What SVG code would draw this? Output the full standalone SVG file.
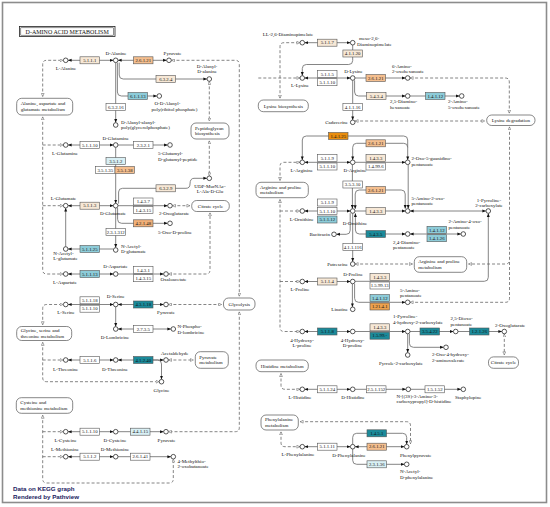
<svg xmlns="http://www.w3.org/2000/svg" width="550" height="507" viewBox="0 0 550 507">
<style>
text{font-family:"Liberation Serif","Times New Roman",serif;font-size:5px;fill:#111}
.et{text-anchor:middle;font-size:4.8px}
.m{text-anchor:middle}
.s{text-anchor:start}
.n{text-anchor:end}
.e{stroke:#555;stroke-width:0.6}
.w{fill:#fff}.t{fill:#f7e8d6}.o{fill:#f5bf8f}.o2{fill:#f2b078}.o3{fill:#eea24e}.oo{fill:#e98d0e}.b{fill:#8dccd9}.lb{fill:#d9f0f5}.dk{fill:#1b8a9a}
.c{fill:#fff;stroke:#222;stroke-width:0.75}
.mp{fill:#fff;stroke:#555;stroke-width:0.7}
.r{fill:none;stroke:#777;stroke-width:0.9}
.d{fill:none;stroke:#666;stroke-width:0.8;stroke-dasharray:3 2}
.ae{marker-end:url(#f)}.as{marker-start:url(#f)}
.de{marker-end:url(#h)}.ds{marker-start:url(#h)}
.lg{font-family:"Liberation Sans",Arial,sans-serif;font-weight:bold;font-size:6.2px;fill:#1a1a5e}
</style>
<defs>
<marker id="f" viewBox="0 0 10 10" refX="9.5" refY="5" markerWidth="3.7" markerHeight="3.7" orient="auto-start-reverse" markerUnits="userSpaceOnUse"><path d="M0,1 L10,5 L0,9z" fill="#111"/></marker>
<marker id="h" viewBox="0 0 10 10" refX="9.5" refY="5" markerWidth="3.6" markerHeight="3.6" orient="auto-start-reverse" markerUnits="userSpaceOnUse"><path d="M1,1 L9,5 L1,9z" fill="#fff" stroke="#444" stroke-width="1.2"/></marker>
</defs>
<rect x="0" y="0" width="550" height="507" fill="#fff"/>
<rect x="2.5" y="2.5" width="544" height="500" fill="none" stroke="#8c8c8c" stroke-width="1.6"/>
<g id="title">
<rect x="19.5" y="26.5" width="95.5" height="10" fill="#fff" stroke="#222" stroke-width="0.8"/>
<rect x="20.8" y="27.8" width="92.9" height="7.4" fill="none" stroke="#222" stroke-width="0.5"/>
<text class="m" x="67.2" y="33.6" style="font-size:6px">D-AMINO ACID METABOLISM</text>
</g>

<g id="connectors">
<path class="r as ae" d="M68.1,60.3H113.3"/>
<path class="r as ae" d="M118.1,60.3H166.6"/>
<path class="r ae" d="M119.2,62.6V75Q119.2,79 123.2,79H206.9"/>
<path class="r ae" d="M117.4,62.7V92Q117.4,96 121.4,96H156.9"/>
<path class="r ae" d="M115.7,62.7V122.6"/>
<path class="r as ae" d="M68.1,145H113.3"/>
<path class="r ae" d="M118.1,145H167.6"/>
<path class="r ae" d="M115.7,147.4V203.3"/>
<path class="r ae" d="M118.6,203.6V192Q118.6,188.3 122.6,188.3H186Q190,188.3 190,184Q190,178.3 194,178.3H206.9"/>
<path class="r as ae" d="M68.1,205.7H113.3"/>
<path class="r ae" d="M118.1,205.7H167.6"/>
<path class="r ae" d="M117.6,208V219.3Q117.6,223.3 121.6,223.3H167.6"/>
<path class="r ae" d="M115.7,208.1V247.6"/>
<path class="r ae" d="M113.3,249H68.1"/>
<path class="r ae" d="M65.7,246.6V208.1"/>
<path class="r as ae" d="M68.1,274H113.3"/>
<path class="r ae" d="M118.1,274H163.6"/>
<path class="r as ae" d="M68.1,304.5H113.3"/>
<path class="r as ae" d="M118.1,304.5H163.6"/>
<path class="r ae" d="M115.7,306.9V326.6"/>
<path class="r as ae" d="M118.1,329H170.9"/>
<path class="r as ae" d="M68.1,360H113.3"/>
<path class="r as ae" d="M118.1,360H163.6"/>
<path class="r ae" d="M153,360H157.5Q161.5,360 161.5,364V379.3"/>
<path class="r as ae" d="M68.1,431.7H113.3"/>
<path class="r ae" d="M118.1,431.7H163.6"/>
<path class="r as ae" d="M68.1,456.7H113.3"/>
<path class="r ae" d="M118.1,456.7H170.9"/>
<path class="d ds de" d="M42.7,96.5V64.3Q42.7,60.3 46.7,60.3H63.1"/>
<path class="d ds de" d="M42.7,116.8V270Q42.7,274 46.7,274H63.1"/>
<path class="d de" d="M42.7,145H63.1"/>
<path class="d de" d="M42.7,205.7H63.1"/>
<path class="d ds de" d="M171.5,60.3H235.3Q239.3,60.3 239.3,64.3V296.3"/>
<path class="d ds de" d="M209.3,81.4V121.2"/>
<path class="d ds de" d="M209.3,140.8V175.9"/>
<path class="d ds de" d="M172.4,205.7H189.9"/>
<path class="d ds de" d="M168.4,274H206Q210,274 210,270V212.8"/>
<path class="d ds de" d="M168.4,304.5H221.7"/>
<path class="d ds de" d="M239.3,311.8V427.7Q239.3,431.7 235.3,431.7H168.4"/>
<path class="d ds de" d="M42.7,324.8V308.5Q42.7,304.5 46.7,304.5H63.1"/>
<path class="d ds de" d="M42.7,342.3V377.7Q42.7,381.7 46.7,381.7H159.1"/>
<path class="d de" d="M42.7,360H63.1"/>
<path class="d ds de" d="M168.4,360H193.5"/>
<path class="d ds de" d="M42.7,415.2V479Q42.7,483 46.7,483H169.3Q173.3,483 173.3,479V459.1"/>
<path class="d de" d="M42.7,431.7H63.1"/>
<path class="d de" d="M42.7,456.7H63.1"/>
<path class="r as ae" d="M304.7,42.7H350.3"/>
<path class="r ae" d="M352.7,45.1V60.5Q352.7,64.5 348.7,64.5H306.3Q302.3,64.5 302.3,68.5V75.6"/>
<path class="r as ae" d="M304.7,78H350.3"/>
<path class="r ae" d="M355.1,78H405.3"/>
<path class="r ae" d="M354.6,80.3V92Q354.6,96 358.6,96H405.3"/>
<path class="r ae" d="M410.1,96H459.3"/>
<path class="r ae" d="M352.7,80.4V119.9"/>
<path class="r as ae" d="M302.3,159.9V140Q302.3,136 306.3,136H403.7Q407.7,136 407.7,140V159.9"/>
<path class="r as" d="M352.7,159.9V147.3Q352.7,143.3 356.7,143.3H403.7Q407.7,143.3 407.7,147.3"/>
<path class="r as ae" d="M304.7,162.3H350.3"/>
<path class="r ae" d="M355.1,162.3H405.3"/>
<path class="r ae" d="M352.4,164.7V208.6"/>
<path class="r ae" d="M408.2,164.7V208.6"/>
<path class="r as ae" d="M355.2,208.7V194Q355.2,190 359.2,190H401.2Q405.2,190 405.2,194V208.6"/>
<path class="r ae" d="M355.1,211H405.3"/>
<path class="r as ae" d="M304.7,211H350.3"/>
<path class="r as ae" d="M410.1,211H485.9"/>
<path class="r as ae" d="M355.4,213.4V230Q355.4,234 359.4,234H405.3"/>
<path class="r as ae" d="M410.1,234H460.9"/>
<path class="r ae" d="M350.2,213.2V230.3Q350.2,234.3 346.2,234.3H336.4"/>
<path class="r ae" d="M352.7,213.4V261.6"/>
<path class="r as ae" d="M304.7,281.5H350.3"/>
<path class="r ae" d="M355.1,281.3H484.3Q488.3,281.3 488.3,277.3V213.4"/>
<path class="r ae" d="M354.6,283.8V298.3Q354.6,302.3 358.6,302.3H405.3"/>
<path class="r ae" d="M352.4,283.9V306.9"/>
<path class="r as ae" d="M304.7,331.5H350.3"/>
<path class="r ae" d="M355.1,331.5H405.3"/>
<path class="r ae" d="M410.1,331.5H453.3"/>
<path class="r ae" d="M458.1,331.5H501.9"/>
<path class="r ae" d="M407.7,333.9V352.6"/>
<path class="r ae" d="M409.4,334V343.3Q409.4,347.3 413.4,347.3H443.6"/>
<path class="r as ae" d="M304.7,389.3H350.3"/>
<path class="r ae" d="M355.1,389.3H405.9"/>
<path class="r ae" d="M410.7,389.3H460.9"/>
<path class="r as ae" d="M304.7,446.7H350.3"/>
<path class="r as ae" d="M355.1,446.7H404.3"/>
<path class="r ae" d="M352.7,444.3V437.3Q352.7,433.3 356.7,433.3H402.7Q406.7,433.3 406.7,437.3V444.3"/>
<path class="r ae" d="M352.7,449.1V460.3Q352.7,464.3 356.7,464.3H404.3"/>
<path class="d ds de" d="M280,98.2V46.7Q280,42.7 284,42.7H299.9"/>
<path class="d de" d="M258.3,78H299.9"/>
<path class="d ds de" d="M410.1,78H505.3Q509.3,78 509.3,82V113.2"/>
<path class="d ds de" d="M355.1,121H484.9"/>
<path class="d ds de" d="M509.5,126.8V260Q509.5,264 505.5,264H468.5"/>
<path class="d de" d="M509.5,262V298.3Q509.5,302.3 505.5,302.3H410.1"/>
<path class="d ds de" d="M355.1,264H412.5"/>
<path class="d ds de" d="M280,180.5V166.3Q280,162.3 284,162.3H299.9"/>
<path class="d ds de" d="M280,199.5V327.5Q280,331.5 284,331.5H299.9"/>
<path class="d de" d="M280,211H299.9"/>
<path class="d de" d="M280,281.5H299.9"/>
<path class="d ds de" d="M504.3,333.9V354.9"/>
<path class="d ds de" d="M281,373.5V385.3Q281,389.3 285,389.3H299.9"/>
<path class="d ds de" d="M281,431.8V442.7Q281,446.7 285,446.7H299.9"/>
<path class="d ds de" d="M300.1,421.7H406.5Q410.5,421.7 410.5,425.7V443.8"/>
</g>

<g id="map_ala"><rect class="mp" x="16.7" y="98.3" width="56" height="16.7" rx="5"/><text class="s" x="20.7" y="105.2">Alanine, aspartate and</text><text class="s" x="20.7" y="110.8">glutamate metabolism</text></g>
<g id="map_pep"><rect class="mp" x="191" y="123" width="38" height="16" rx="5"/><text class="s" x="195" y="129.8">Peptidoglycan</text><text class="s" x="195" y="135.4">biosynthesis</text></g>
<g id="map_tca1"><rect class="mp" x="191.7" y="200.5" width="37.6" height="11" rx="5"/><text class="m" x="210.5" y="207.7">Citrate cycle</text></g>
<g id="map_gly"><rect class="mp" x="16.7" y="326.5" width="55" height="14" rx="5"/><text class="s" x="20.7" y="332.4">Glycine, serine and</text><text class="s" x="20.7" y="337.8">threonine metabolism</text></g>
<g id="map_glycolysis"><rect class="mp" x="223.5" y="298" width="31.5" height="12" rx="5"/><text class="m" x="239.3" y="305.8">Glycolysis</text></g>
<g id="map_pyr"><rect class="mp" x="195.3" y="351.7" width="33" height="16.6" rx="5"/><text class="s" x="199.3" y="358.6">Pyruvate</text><text class="s" x="199.3" y="364.2">metabolism</text></g>
<g id="map_cys"><rect class="mp" x="16.3" y="397.7" width="56.4" height="15.6" rx="5"/><text class="s" x="20.3" y="404.2">Cysteine and</text><text class="s" x="20.3" y="409.7">methionine metabolism</text></g>
<g id="map_lysb"><rect class="mp" x="258.3" y="100" width="50" height="11.7" rx="5"/><text class="m" x="283.3" y="107.6">Lysine biosynthesis</text></g>
<g id="map_lysd"><rect class="mp" x="486.7" y="115" width="48.3" height="10.5" rx="5"/><text class="m" x="510.8" y="121.9">Lysine degradation</text></g>
<g id="map_arg1"><rect class="mp" x="256" y="182.3" width="52.3" height="15.4" rx="5"/><text class="s" x="260" y="188.9">Arginine and proline</text><text class="s" x="260" y="194.4">metabolism</text></g>
<g id="map_arg2"><rect class="mp" x="414.3" y="256.7" width="52.4" height="15.6" rx="5"/><text class="s" x="418.3" y="263.3">Arginine and proline</text><text class="s" x="418.3" y="268.8">metabolism</text></g>
<g id="map_tca2"><rect class="mp" x="488.5" y="356.9" width="30" height="11.4" rx="5"/><text class="m" x="503.5" y="364.3">Citrate cycle</text></g>
<g id="map_his"><rect class="mp" x="256" y="360" width="52.3" height="11.7" rx="5"/><text class="m" x="282.1" y="367.6">Histidine metabolism</text></g>
<g id="map_phe"><rect class="mp" x="261" y="415" width="37.3" height="15" rx="5"/><text class="s" x="265" y="421.4">Phenylalanine</text><text class="s" x="265" y="426.9">metabolism</text></g>

<g id="ec_5.1.1.1"><rect class="e t" x="80" y="56.8" width="19.5" height="7"/><text class="et" x="89.75" y="62">5.1.1.1</text></g>
<g id="ec_2.6.1.21_a"><rect class="e o" x="133.5" y="56.8" width="19.5" height="7"/><text class="et" x="143.25" y="62">2.6.1.21</text></g>
<g id="ec_6.3.2.4"><rect class="e t" x="156" y="75.5" width="19.5" height="7"/><text class="et" x="165.75" y="80.7">6.3.2.4</text></g>
<g id="ec_6.1.1.13"><rect class="e b" x="128" y="92.5" width="19.5" height="7"/><text class="et" x="137.75" y="97.7">6.1.1.13</text></g>
<g id="ec_6.3.2.16"><rect class="e w" x="106" y="103.5" width="19.5" height="7"/><text class="et" x="115.75" y="108.7">6.3.2.16</text></g>
<g id="ec_5.1.1.10_a"><rect class="e w" x="80" y="141.5" width="19.5" height="7"/><text class="et" x="89.75" y="146.7">5.1.1.10</text></g>
<g id="ec_2.3.2.1"><rect class="e w" x="133.5" y="141.5" width="19.5" height="7"/><text class="et" x="143.25" y="146.7">2.3.2.1</text></g>
<g id="ec_3.5.1.2"><rect class="e lb" x="106" y="157.5" width="19.5" height="7"/><text class="et" x="115.75" y="162.7">3.5.1.2</text></g>
<g id="ec_3.5.1.35"><rect class="e w" x="95.5" y="166.5" width="19.5" height="7"/><text class="et" x="105.25" y="171.7">3.5.1.35</text></g>
<g id="ec_3.5.1.38"><rect class="e o" x="115" y="166.5" width="19.5" height="7"/><text class="et" x="124.75" y="171.7">3.5.1.38</text></g>
<g id="ec_6.3.2.9"><rect class="e t" x="156" y="184.8" width="19.5" height="7"/><text class="et" x="165.75" y="190">6.3.2.9</text></g>
<g id="ec_5.1.1.3"><rect class="e t" x="80" y="202.2" width="19.5" height="7"/><text class="et" x="89.75" y="207.4">5.1.1.3</text></g>
<g id="ec_1.4.3.7"><rect class="e w" x="133.5" y="198" width="19.5" height="7"/><text class="et" x="143.25" y="203.2">1.4.3.7</text></g>
<g id="ec_1.4.3.15_a"><rect class="e w" x="133.5" y="206.4" width="19.5" height="7"/><text class="et" x="143.25" y="211.6">1.4.3.15</text></g>
<g id="ec_4.2.1.48"><rect class="e o2" x="133.5" y="219.8" width="19.5" height="7"/><text class="et" x="143.25" y="225">4.2.1.48</text></g>
<g id="ec_2.3.1.312"><rect class="e w" x="106" y="228.5" width="19.5" height="7"/><text class="et" x="115.75" y="233.7">2.3.1.312</text></g>
<g id="ec_5.1.1.25"><rect class="e b" x="80" y="245.5" width="19.5" height="7"/><text class="et" x="89.75" y="250.7">5.1.1.25</text></g>
<g id="ec_5.1.1.13"><rect class="e b" x="80" y="270.5" width="19.5" height="7"/><text class="et" x="89.75" y="275.7">5.1.1.13</text></g>
<g id="ec_1.4.3.1"><rect class="e w" x="133.5" y="266.3" width="19.5" height="7"/><text class="et" x="143.25" y="271.5">1.4.3.1</text></g>
<g id="ec_1.4.3.15_b"><rect class="e w" x="133.5" y="274.7" width="19.5" height="7"/><text class="et" x="143.25" y="279.9">1.4.3.15</text></g>
<g id="ec_5.1.1.18"><rect class="e w" x="80" y="296.8" width="19.5" height="7"/><text class="et" x="89.75" y="302">5.1.1.18</text></g>
<g id="ec_5.1.1.10_b"><rect class="e w" x="80" y="305.2" width="19.5" height="7"/><text class="et" x="89.75" y="310.4">5.1.1.10</text></g>
<g id="ec_4.3.1.18"><rect class="e dk" x="133.5" y="301" width="19.5" height="7"/><text class="et" x="143.25" y="306.2">4.3.1.18</text></g>
<g id="ec_2.7.3.5"><rect class="e w" x="133.5" y="325.5" width="19.5" height="7"/><text class="et" x="143.25" y="330.7">2.7.3.5</text></g>
<g id="ec_5.1.1.6"><rect class="e w" x="80" y="356.5" width="19.5" height="7"/><text class="et" x="89.75" y="361.7">5.1.1.6</text></g>
<g id="ec_4.1.2.40"><rect class="e dk" x="133.5" y="356.5" width="19.5" height="7"/><text class="et" x="143.25" y="361.7">4.1.2.40</text></g>
<g id="ec_5.1.1.10_c"><rect class="e w" x="80" y="428.2" width="19.5" height="7"/><text class="et" x="89.75" y="433.4">5.1.1.10</text></g>
<g id="ec_4.4.1.15"><rect class="e lb" x="130.5" y="428.2" width="19.5" height="7"/><text class="et" x="140.25" y="433.4">4.4.1.15</text></g>
<g id="ec_5.1.1.2"><rect class="e w" x="80" y="453.2" width="19.5" height="7"/><text class="et" x="89.75" y="458.4">5.1.1.2</text></g>
<g id="ec_2.6.1.41"><rect class="e w" x="130.5" y="453.2" width="19.5" height="7"/><text class="et" x="140.25" y="458.4">2.6.1.41</text></g>
<g id="ec_5.1.1.7"><rect class="e t" x="317.5" y="39.2" width="19.5" height="7"/><text class="et" x="327.25" y="44.4">5.1.1.7</text></g>
<g id="ec_4.1.1.20"><rect class="e t" x="342.9" y="50" width="19.5" height="7"/><text class="et" x="352.65" y="55.2">4.1.1.20</text></g>
<g id="ec_5.1.1.5"><rect class="e w" x="317.5" y="70.3" width="19.5" height="7"/><text class="et" x="327.25" y="75.5">5.1.1.5</text></g>
<g id="ec_5.1.1.10_d"><rect class="e w" x="317.5" y="78.7" width="19.5" height="7"/><text class="et" x="327.25" y="83.9">5.1.1.10</text></g>
<g id="ec_2.6.1.21_b"><rect class="e o" x="366" y="74.5" width="19.5" height="7"/><text class="et" x="375.75" y="79.7">2.6.1.21</text></g>
<g id="ec_5.4.3.4"><rect class="e t" x="366.5" y="92.5" width="19.5" height="7"/><text class="et" x="376.25" y="97.7">5.4.3.4</text></g>
<g id="ec_1.4.1.12_a"><rect class="e b" x="425.5" y="92.5" width="19.5" height="7"/><text class="et" x="435.25" y="97.7">1.4.1.12</text></g>
<g id="ec_4.1.1.16"><rect class="e w" x="342.9" y="103.3" width="19.5" height="7"/><text class="et" x="352.65" y="108.5">4.1.1.16</text></g>
<g id="ec_1.4.1.25"><rect class="e oo" x="328.5" y="132.5" width="19.5" height="7"/><text class="et" x="338.25" y="137.7">1.4.1.25</text></g>
<g id="ec_2.6.1.21_c"><rect class="e o" x="366" y="139.8" width="19.5" height="7"/><text class="et" x="375.75" y="145">2.6.1.21</text></g>
<g id="ec_5.1.1.9_a"><rect class="e w" x="317.5" y="154.6" width="19.5" height="7"/><text class="et" x="327.25" y="159.8">5.1.1.9</text></g>
<g id="ec_5.1.1.10_e"><rect class="e w" x="317.5" y="163" width="19.5" height="7"/><text class="et" x="327.25" y="168.2">5.1.1.10</text></g>
<g id="ec_1.4.3.3_a"><rect class="e t" x="366" y="154.6" width="19.5" height="7"/><text class="et" x="375.75" y="159.8">1.4.3.3</text></g>
<g id="ec_1.4.99.6"><rect class="e w" x="366" y="163" width="19.5" height="7"/><text class="et" x="375.75" y="168.2">1.4.99.6</text></g>
<g id="ec_3.5.3.10"><rect class="e w" x="342.9" y="181" width="19.5" height="7"/><text class="et" x="352.65" y="186.2">3.5.3.10</text></g>
<g id="ec_2.6.1.21_d"><rect class="e o" x="366" y="186.5" width="19.5" height="7"/><text class="et" x="375.75" y="191.7">2.6.1.21</text></g>
<g id="ec_5.1.1.9_b"><rect class="e w" x="317.5" y="199" width="19.5" height="7"/><text class="et" x="327.25" y="204.2">5.1.1.9</text></g>
<g id="ec_5.1.1.10_f"><rect class="e w" x="317.5" y="207.5" width="19.5" height="7"/><text class="et" x="327.25" y="212.7">5.1.1.10</text></g>
<g id="ec_5.1.1.12"><rect class="e b" x="317.5" y="216" width="19.5" height="7"/><text class="et" x="327.25" y="221.2">5.1.1.12</text></g>
<g id="ec_1.4.3.3_b"><rect class="e t" x="366" y="207.5" width="19.5" height="7"/><text class="et" x="375.75" y="212.7">1.4.3.3</text></g>
<g id="ec_5.4.3.5"><rect class="e dk" x="366" y="230.5" width="19.5" height="7"/><text class="et" x="375.75" y="235.7">5.4.3.5</text></g>
<g id="ec_1.4.1.12_b"><rect class="e b" x="427" y="226.3" width="19.5" height="7"/><text class="et" x="436.75" y="231.5">1.4.1.12</text></g>
<g id="ec_1.4.1.26"><rect class="e b" x="427" y="234.7" width="19.5" height="7"/><text class="et" x="436.75" y="239.9">1.4.1.26</text></g>
<g id="ec_4.1.1.116"><rect class="e w" x="342.9" y="243.3" width="19.5" height="7"/><text class="et" x="352.65" y="248.5">4.1.1.116</text></g>
<g id="ec_5.1.1.4"><rect class="e t" x="317.5" y="278" width="19.5" height="7"/><text class="et" x="327.25" y="283.2">5.1.1.4</text></g>
<g id="ec_1.4.3.3_c"><rect class="e t" x="370" y="273.6" width="19.5" height="7"/><text class="et" x="379.75" y="278.8">1.4.3.3</text></g>
<g id="ec_1.5.99.13"><rect class="e w" x="370" y="282" width="19.5" height="7"/><text class="et" x="379.75" y="287.2">1.5.99.13</text></g>
<g id="ec_1.4.1.12_c"><rect class="e b" x="370" y="294.6" width="19.5" height="7"/><text class="et" x="379.75" y="299.8">1.4.1.12</text></g>
<g id="ec_1.21.4.1"><rect class="e o3" x="370" y="303" width="19.5" height="7"/><text class="et" x="379.75" y="308.2">1.21.4.1</text></g>
<g id="ec_5.1.1.8"><rect class="e dk" x="317.5" y="328" width="19.5" height="7"/><text class="et" x="327.25" y="333.2">5.1.1.8</text></g>
<g id="ec_1.4.3.3_d"><rect class="e t" x="370" y="323.8" width="19.5" height="7"/><text class="et" x="379.75" y="329">1.4.3.3</text></g>
<g id="ec_1.5.99.x"><rect class="e dk" x="370" y="332.2" width="19.5" height="7"/><text class="et" x="379.75" y="337.4">1.5.99.-</text></g>
<g id="ec_3.5.4.22"><rect class="e dk" x="420" y="328" width="19.5" height="7"/><text class="et" x="429.75" y="333.2">3.5.4.22</text></g>
<g id="ec_1.2.1.26"><rect class="e dk" x="469.5" y="328" width="19.5" height="7"/><text class="et" x="479.25" y="333.2">1.2.1.26</text></g>
<g id="ec_5.1.1.24"><rect class="e w" x="317.5" y="385.8" width="19.5" height="7"/><text class="et" x="327.25" y="391">5.1.1.24</text></g>
<g id="ec_2.5.1.152"><rect class="e w" x="366.5" y="385.8" width="19.5" height="7"/><text class="et" x="376.25" y="391">2.5.1.152</text></g>
<g id="ec_1.5.1.52"><rect class="e w" x="425" y="385.8" width="19.5" height="7"/><text class="et" x="434.75" y="391">1.5.1.52</text></g>
<g id="ec_5.1.1.11"><rect class="e w" x="317.5" y="443.2" width="19.5" height="7"/><text class="et" x="327.25" y="448.4">5.1.1.11</text></g>
<g id="ec_1.4.5.1"><rect class="e dk" x="367" y="429.8" width="19.5" height="7"/><text class="et" x="376.75" y="435">1.4.5.1</text></g>
<g id="ec_2.6.1.21_e"><rect class="e o" x="367" y="443.2" width="19.5" height="7"/><text class="et" x="376.75" y="448.4">2.6.1.21</text></g>
<g id="ec_2.3.1.36"><rect class="e lb" x="367" y="460.8" width="19.5" height="7"/><text class="et" x="376.75" y="466">2.3.1.36</text></g>

<g id="cpd_L-Ala"><circle class="c" cx="65.7" cy="60.3" r="2.3"/><text class="m" x="66" y="70">L-Alanine</text></g>
<g id="cpd_D-Ala"><circle class="c" cx="115.7" cy="60.3" r="2.3"/><text class="m" x="116" y="54.8">D-Alanine</text></g>
<g id="cpd_Pyr1"><circle class="c" cx="169" cy="60.3" r="2.3"/><text class="m" x="172.5" y="54.8">Pyruvate</text></g>
<g id="cpd_DAlaDAla"><circle class="c" cx="209.3" cy="79" r="2.3"/><text class="m" x="207" y="67.5">D-Alanyl-</text><text class="m" x="207" y="73">D-alanine</text></g>
<g id="cpd_ODAla"><circle class="c" cx="159.3" cy="96" r="2.3"/><text class="s" x="154.5" y="105">O-D-Alanyl-</text><text class="s" x="151.5" y="110.5">poly(ribitol phosphate)</text></g>
<g id="cpd_DAlaGro"><circle class="c" cx="115.7" cy="125" r="2.3"/><text class="s" x="121" y="123.5">D-Alanyl-alanyl-</text><text class="s" x="121" y="129">poly(glycerolphosphate)</text></g>
<g id="cpd_L-Gln"><circle class="c" cx="65.7" cy="145" r="2.3"/><text class="m" x="65" y="154.5">L-Glutamine</text></g>
<g id="cpd_D-Gln"><circle class="c" cx="115.7" cy="145" r="2.3"/><text class="m" x="115.7" y="139.5">D-Glutamine</text></g>
<g id="cpd_GluPep"><circle class="c" cx="170" cy="145" r="2.3"/><text class="s" x="158" y="155">5-Glutamyl-</text><text class="s" x="158" y="160.5">D-glutamyl-peptide</text></g>
<g id="cpd_UDP"><circle class="c" cx="209.3" cy="178.3" r="2.3"/><text class="m" x="210" y="187.5">UDP-MurNAc-</text><text class="m" x="210" y="193">L-Ala-D-Glu</text></g>
<g id="cpd_L-Glu"><circle class="c" cx="65.7" cy="205.7" r="2.3"/><text class="m" x="63.5" y="199.5">L-Glutamate</text></g>
<g id="cpd_D-Glu"><circle class="c" cx="115.7" cy="205.7" r="2.3"/><text class="m" x="113" y="214.8">D-Glutamate</text></g>
<g id="cpd_2OG1"><circle class="c" cx="170" cy="205.7" r="2.3"/><text class="s" x="159" y="215.2">2-Oxoglutarate</text></g>
<g id="cpd_OxoPro"><circle class="c" cx="170" cy="223.3" r="2.3"/><text class="s" x="158" y="234.2">5-Oxo-D-proline</text></g>
<g id="cpd_NAcDGlu"><circle class="c" cx="115.7" cy="250" r="2.3"/><text class="s" x="121" y="247.5">N-Acetyl-</text><text class="s" x="121" y="253">D-glutamate</text></g>
<g id="cpd_NAcLGlu"><circle class="c" cx="65.7" cy="249" r="2.3"/><text class="s" x="53.3" y="254.8">N-Acetyl-</text><text class="s" x="53.3" y="260.3">L-glutamate</text></g>
<g id="cpd_L-Asp"><circle class="c" cx="65.7" cy="274" r="2.3"/><text class="m" x="65" y="283.8">L-Aspartate</text></g>
<g id="cpd_D-Asp"><circle class="c" cx="115.7" cy="274" r="2.3"/><text class="m" x="115.5" y="267.5">D-Aspartate</text></g>
<g id="cpd_OAA"><circle class="c" cx="166" cy="274" r="2.3"/><text class="s" x="160.5" y="280.8">Oxaloacetate</text></g>
<g id="cpd_L-Ser"><circle class="c" cx="65.7" cy="304.5" r="2.3"/><text class="m" x="66" y="314.3">L-Serine</text></g>
<g id="cpd_D-Ser"><circle class="c" cx="115.7" cy="304.5" r="2.3"/><text class="m" x="115.7" y="298.3">D-Serine</text></g>
<g id="cpd_Pyr2"><circle class="c" cx="166" cy="304.5" r="2.3"/><text class="m" x="166" y="314.3">Pyruvate</text></g>
<g id="cpd_DLom"><circle class="c" cx="115.7" cy="329" r="2.3"/><text class="m" x="115" y="339">D-Lombricine</text></g>
<g id="cpd_NPLom"><circle class="c" cx="173.3" cy="329" r="2.3"/><text class="s" x="177.5" y="328">N-Phospho-</text><text class="s" x="177.5" y="333.5">D-lombricine</text></g>
<g id="cpd_L-Thr"><circle class="c" cx="65.7" cy="360" r="2.3"/><text class="m" x="65.7" y="370.5">L-Threonine</text></g>
<g id="cpd_D-Thr"><circle class="c" cx="115.7" cy="360" r="2.3"/><text class="m" x="115" y="370.5">D-Threonine</text></g>
<g id="cpd_AcAld"><circle class="c" cx="166" cy="360" r="2.3"/><text class="s" x="161" y="354.5">Acetaldehyde</text></g>
<g id="cpd_Gly"><circle class="c" cx="161.5" cy="381.7" r="2.3"/><text class="m" x="161.5" y="391.5">Glycine</text></g>
<g id="cpd_L-Cys"><circle class="c" cx="65.7" cy="431.7" r="2.3"/><text class="m" x="65.5" y="441.5">L-Cysteine</text></g>
<g id="cpd_D-Cys"><circle class="c" cx="115.7" cy="431.7" r="2.3"/><text class="m" x="115" y="441.5">D-Cysteine</text></g>
<g id="cpd_Pyr3"><circle class="c" cx="166" cy="431.7" r="2.3"/><text class="m" x="166.5" y="441.5">Pyruvate</text></g>
<g id="cpd_L-Met"><circle class="c" cx="65.7" cy="456.7" r="2.3"/><text class="m" x="65" y="451">L-Methionine</text></g>
<g id="cpd_D-Met"><circle class="c" cx="115.7" cy="456.7" r="2.3"/><text class="m" x="115" y="451">D-Methionine</text></g>
<g id="cpd_MTOB"><circle class="c" cx="173.3" cy="456.7" r="2.3"/><text class="s" x="177.5" y="462.5">4-Methylthio-</text><text class="s" x="177.5" y="468">2-oxobutanoate</text></g>

<g id="cpd_LLDAP"><circle class="c" cx="302.3" cy="42.7" r="2.3"/><text class="m" x="288" y="35.5">LL-2,6-Diaminopimelate</text></g>
<g id="cpd_mesoDAP"><circle class="c" cx="352.7" cy="42.7" r="2.3"/><text class="s" x="359" y="40">meso-2,6-</text><text class="s" x="357" y="45.8">Diaminopimelate</text></g>
<g id="cpd_L-Lys"><circle class="c" cx="302.3" cy="78" r="2.3"/><text class="m" x="300" y="87">L-Lysine</text></g>
<g id="cpd_D-Lys"><circle class="c" cx="352.7" cy="78" r="2.3"/><text class="m" x="353.5" y="72.5">D-Lysine</text></g>
<g id="cpd_6A2O"><circle class="c" cx="407.7" cy="78" r="2.3"/><text class="s" x="392" y="67.5">6-Amino-</text><text class="s" x="392" y="73">2-oxohexanoate</text></g>
<g id="cpd_25DAH"><circle class="c" cx="407.7" cy="96" r="2.3"/><text class="s" x="390" y="103">2,5-Diamino-</text><text class="s" x="390" y="108.5">hexanoate</text></g>
<g id="cpd_2A5O"><circle class="c" cx="461.7" cy="96" r="2.3"/><text class="s" x="448" y="103">2-Amino-</text><text class="s" x="448" y="108.5">5-oxohexanoate</text></g>
<g id="cpd_Cad"><circle class="c" cx="352.7" cy="122.3" r="2.3"/><text class="n" x="348" y="124">Cadaverine</text></g>
<g id="cpd_L-Arg"><circle class="c" cx="302.3" cy="162.3" r="2.3"/><text class="m" x="301.7" y="171.5">L-Arginine</text></g>
<g id="cpd_D-Arg"><circle class="c" cx="352.7" cy="162.3" r="2.3"/><text class="m" x="355" y="171.5">D-Arginine</text></g>
<g id="cpd_2O5G"><circle class="c" cx="407.7" cy="162.3" r="2.3"/><text class="s" x="411.5" y="160">2-Oxo-5-guanidino-</text><text class="s" x="411.5" y="165.5">pentanoate</text></g>
<g id="cpd_L-Orn"><circle class="c" cx="302.3" cy="211" r="2.3"/><text class="m" x="301.7" y="220.5">L-Ornithine</text></g>
<g id="cpd_D-Orn"><circle class="c" cx="352.7" cy="211" r="2.3"/><text class="m" x="355" y="225">D-Ornithine</text></g>
<g id="cpd_5A2O"><circle class="c" cx="407.7" cy="211" r="2.3"/><text class="s" x="411.5" y="199.5">5-Amino-2-oxo-</text><text class="s" x="411.5" y="205">pentanoate</text></g>
<g id="cpd_P2C"><circle class="c" cx="488.3" cy="211" r="2.3"/><text class="m" x="489" y="201.5">1-Pyrroline-</text><text class="m" x="489" y="207">2-carboxylate</text></g>
<g id="cpd_24DAP"><circle class="c" cx="407.7" cy="234" r="2.3"/><text class="s" x="393" y="243.5">2,4-Diamino-</text><text class="s" x="393" y="249">pentanoate</text></g>
<g id="cpd_2A4O"><circle class="c" cx="463.3" cy="234" r="2.3"/><text class="s" x="448.5" y="223">2-Amino-4-oxo-</text><text class="s" x="448.5" y="228.5">pentanoate</text></g>
<g id="cpd_Bac"><circle class="c" cx="334" cy="234.3" r="2.3"/><text class="n" x="330" y="236">Bacitracin</text></g>
<g id="cpd_Put"><circle class="c" cx="352.7" cy="264" r="2.3"/><text class="n" x="348" y="266">Putrescine</text></g>
<g id="cpd_L-Pro"><circle class="c" cx="302.3" cy="281.5" r="2.3"/><text class="m" x="300" y="291">L-Proline</text></g>
<g id="cpd_D-Pro"><circle class="c" cx="352.7" cy="281.5" r="2.3"/><text class="m" x="353" y="275.5">D-Proline</text></g>
<g id="cpd_5AP"><circle class="c" cx="407.7" cy="302.3" r="2.3"/><text class="s" x="400" y="291.5">5-Amino-</text><text class="s" x="400" y="297">pentanoate</text></g>
<g id="cpd_Lin"><circle class="c" cx="352.7" cy="309.3" r="2.3"/><text class="n" x="348" y="311">Linatine</text></g>
<g id="cpd_4HLP"><circle class="c" cx="302.3" cy="331.5" r="2.3"/><text class="m" x="302" y="341.5">4-Hydroxy-</text><text class="m" x="302" y="347">L-proline</text></g>
<g id="cpd_4HDP"><circle class="c" cx="352.7" cy="331.5" r="2.3"/><text class="m" x="352.5" y="341.5">4-Hydroxy-</text><text class="m" x="352.5" y="347">D-proline</text></g>
<g id="cpd_P4H2C"><circle class="c" cx="407.7" cy="331.5" r="2.3"/><text class="s" x="393" y="318">1-Pyrroline-</text><text class="s" x="393" y="323.5">4-hydroxy-2-carboxylate</text></g>
<g id="cpd_25DOP"><circle class="c" cx="455.7" cy="331.5" r="2.3"/><text class="s" x="450.5" y="320">2,5-Dioxo-</text><text class="s" x="450.5" y="325.5">pentanoate</text></g>
<g id="cpd_2OG2"><circle class="c" cx="504.3" cy="331.5" r="2.3"/><text class="s" x="495" y="326.5">2-Oxoglutarate</text></g>
<g id="cpd_Pyrrole"><circle class="c" cx="407.7" cy="355" r="2.3"/><text class="m" x="401" y="365">Pyrrole-2-carboxylate</text></g>
<g id="cpd_OHAV"><circle class="c" cx="446" cy="347.3" r="2.3"/><text class="s" x="432" y="356">2-Oxo-4-hydroxy-</text><text class="s" x="432" y="361.5">2-aminovalerate</text></g>
<g id="cpd_L-His"><circle class="c" cx="302.3" cy="389.3" r="2.3"/><text class="m" x="300" y="398.5">L-Histidine</text></g>
<g id="cpd_D-His"><circle class="c" cx="352.7" cy="389.3" r="2.3"/><text class="m" x="353" y="398.5">D-Histidine</text></g>
<g id="cpd_ACPH"><circle class="c" cx="408.3" cy="389.3" r="2.3"/><text class="s" x="396.5" y="397.5">N-[(3S)-3-Amino-3-</text><text class="s" x="396.5" y="403">carboxypropyl]-D-histidine</text></g>
<g id="cpd_Staph"><circle class="c" cx="463.3" cy="389.3" r="2.3"/><text class="s" x="455" y="398.5">Staphylopine</text></g>
<g id="cpd_L-Phe"><circle class="c" cx="302.3" cy="446.7" r="2.3"/><text class="m" x="298" y="456">L-Phenylalanine</text></g>
<g id="cpd_D-Phe"><circle class="c" cx="352.7" cy="446.7" r="2.3"/><text class="m" x="349" y="456.5">D-Phenylalanine</text></g>
<g id="cpd_PhePyr"><circle class="c" cx="406.7" cy="446.7" r="2.3"/><text class="s" x="400" y="456.5">Phenylpyruvate</text></g>
<g id="cpd_NAcPhe"><circle class="c" cx="406.7" cy="464.3" r="2.3"/><text class="s" x="400" y="473">N-Acetyl-</text><text class="s" x="400" y="478.5">D-phenylalanine</text></g>

<g id="legend"><text class="lg" x="13" y="491">Data on KEGG graph</text><text class="lg" x="13" y="498.5">Rendered by Pathview</text></g>
</svg>
